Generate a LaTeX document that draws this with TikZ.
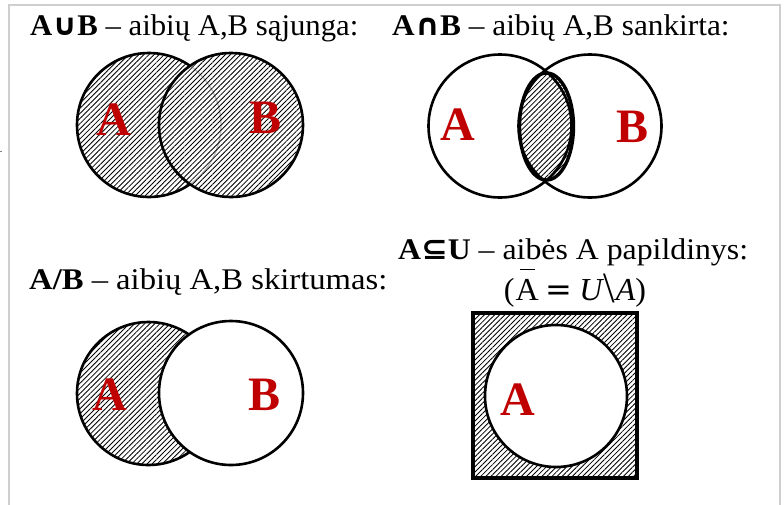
\documentclass[tikz,border=0pt]{standalone}
\usepackage{fontspec}
\setmainfont{Liberation Serif}
\newfontfamily\symf{DejaVu Sans}
\usetikzlibrary{patterns.meta,shapes.geometric}
\definecolor{lblred}{HTML}{C00000}
\definecolor{framegray}{HTML}{CFCFCF}
\tikzset{
  hatch/.style={pattern={Lines[angle=45,distance=3.6pt,line width=0.85pt]},pattern color=black},
  setc/.style={circle,draw=black,line width=2.6pt,inner sep=0pt,minimum size=#1},
  title/.style={anchor=base west,inner sep=0pt,font=\fontsize{30}{36}\selectfont},
  lbl/.style={anchor=base,inner sep=0pt,text=lblred,font=\fontsize{48}{56}\selectfont\bfseries},
}
\begin{document}
\begin{tikzpicture}[x=1pt,y=-1pt]
\useasboundingbox (0,0) rectangle (784,504);
% frame
\draw[framegray,line width=1.5pt] (9,506) -- (9,5) -- (780,5) -- (780,506);
\draw[gray,line width=1pt] (0,151) -- (2,151);

% ---- union ----
\node[title] (t1) at (30,35) {\scalebox{1.025}[1]{\textbf{A{\symf\bfseries ∪}B} – aibių A,B sąjunga:}};
\node[setc=144pt,hatch] (ua) at (149,125) {};
\begin{scope}
  \clip (231,125) circle[radius=72];
  \fill[white] (231,125) circle[radius=72];
  \draw[gray!70,line width=1.4pt] (149,125) circle[radius=72];
  \fill[white,opacity=0.3] (231,125) circle[radius=72];
  \fill[hatch] (231,125) circle[radius=72];
\end{scope}
\node[setc=144pt] (ub) at (231,125) {};
\node[lbl] (ula) at (114,135) {A};
\node[lbl] (ulb) at (265.5,133) {B};

% ---- intersection ----
\node[title] (t2) at (392,35) {\scalebox{1.043}[1]{\textbf{A{\symf\bfseries ∩}B} – aibių A,B sankirta:}};
\node[setc=143pt] (ia) at (500,126) {};
\node[setc=143pt] (ib) at (590,126) {};
\node[ellipse,draw=black,line width=3.4pt,hatch,minimum width=54pt,minimum height=107pt,inner sep=0pt] (ii) at (546.5,126.5) {};
\node[lbl] (ila) at (458,140) {A};
\node[lbl] (ilb) at (632,142) {B};

% ---- difference ----
\node[title] (t3) at (29,289) {\scalebox{1.088}[1]{\textbf{A/B} – aibių A,B skirtumas:}};
\node[setc=143pt,hatch] (da) at (148.5,393.5) {};
\node[setc=144pt,fill=white] (db) at (231,393) {};
\node[lbl] (dla) at (110,410) {A};
\node[lbl] (dlb) at (264.5,410) {B};

% ---- complement ----
\node[title] (t4) at (398,259) {\scalebox{1.06}[1]{\textbf{A{\symf\bfseries ⊆}U} – aibės A papildinys:}};
\node[anchor=base,inner sep=0pt,font=\fontsize{32}{38}\selectfont] (f4) at (575,300)
  {(\kern1pt\rlap{\kern4pt\raisebox{30pt}{\rule{15pt}{1.4pt}}}A\kern7pt{\symf =}\kern7pt\textit{U}\kern-1pt\raisebox{-2pt}{\scalebox{1.3}[1.35]{\textbackslash}}\kern1pt\textit{A})};
\node[rectangle,draw=black,line width=3.5pt,hatch,minimum width=164pt,minimum height=165pt,inner sep=0pt] (cu) at (555,395.5) {};
\node[setc=142pt,fill=white] (ca) at (556,396) {};
\node[lbl] (cla) at (518,415) {A};
\end{tikzpicture}
\end{document}
